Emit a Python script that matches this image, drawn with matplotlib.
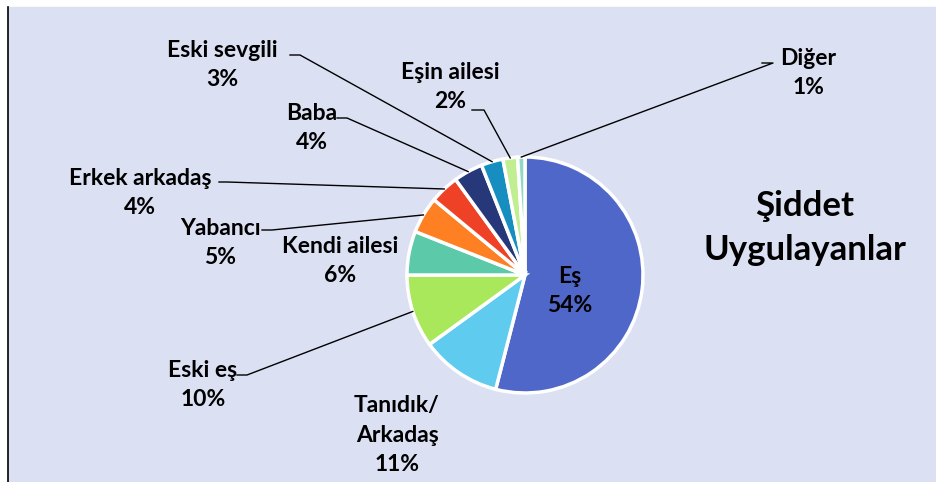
import matplotlib
matplotlib.use('Agg')
import matplotlib.pyplot as plt
import numpy as np

# ============================================================
#  資料
# ============================================================
labels = ['Eş', 'Tanıdık/\nArkadaş', 'Eski eş', 'Kendi ailesi', 'Yabancı',
          'Erkek arkadaş', 'Baba', 'Eski sevgili', 'Eşin ailesi', 'Diğer']
values = [54, 11, 10, 6, 5, 4, 4, 3, 2, 1]
colors = ['#4F67C8', '#5FCBEF', '#A8E85A', '#5CCAA8', '#FF8022',
          '#EE4125', '#26387A', '#168FC0', '#C0EE90', '#90D9C6']
title = 'Şiddet\nUygulayanlar'

# 標籤位置（像素，左上為原點）；elbow = 引線轉折點（None = 無引線）
label_pos = [(570, 291), (397, 435), (203, 385), (340, 261), (220, 243),
             (140, 193), (312, 128), (222, 65), (450, 87), (808, 73)]
elbow = [None, None, (247, 375), None, (272, 230),
         (227, 182), (347, 118), (300, 55), (484, 110), (773, 63)]
elbow_start = [None, None, (237, 375), None, (262, 230),
               (219, 182), (337, 118), (290, 55), (472, 110), (762, 63)]

W, H = 936, 482
CX, CY, R = 525, 275, 118

plt.rcParams['font.family'] = ['Lato', 'DejaVu Sans']

fig = plt.figure(figsize=(W / 100, H / 100), dpi=100, facecolor='white')
ax = fig.add_axes([0, 0, 1, 1])

# 背景
ax.add_patch(plt.Rectangle((8, 0), W - 8, H - 7, color='#DCE0F3', zorder=0))
ax.plot([7.5, 7.5], [0, H - 7], color='black', lw=1.2, zorder=1)

wedges, _ = ax.pie(values, colors=colors, startangle=90, counterclock=False,
                   center=(CX, H - CY), radius=R, frame=True,
                   wedgeprops=dict(edgecolor='white', linewidth=2.5))
ax.set_xlim(0, W)
ax.set_ylim(0, H)
ax.set_aspect('equal')
ax.axis('off')

for i, w in enumerate(wedges):
    w.set_zorder(2)
    lx, ly = label_pos[i]
    txt = f'{labels[i]}\n{values[i]}%'
    ax.text(lx, H - ly, txt, ha='center', va='center', fontsize=16.5,
            fontweight='bold', linespacing=1.5, zorder=5)
    if elbow[i] is not None:
        ang = np.deg2rad((w.theta1 + w.theta2) / 2)
        px = CX + R * np.cos(ang)
        py = CY - R * np.sin(ang)
        sx, sy = elbow_start[i]
        ex, ey = elbow[i]
        ax.plot([sx, ex, px], [H - sy, H - ey, H - py], color='black',
                lw=1.0, zorder=3)

ax.text(805, H - 228, title, ha='center', va='center', fontsize=25,
        fontweight='bold', linespacing=1.45)

fig.savefig('out.png', dpi=100, facecolor='white')
